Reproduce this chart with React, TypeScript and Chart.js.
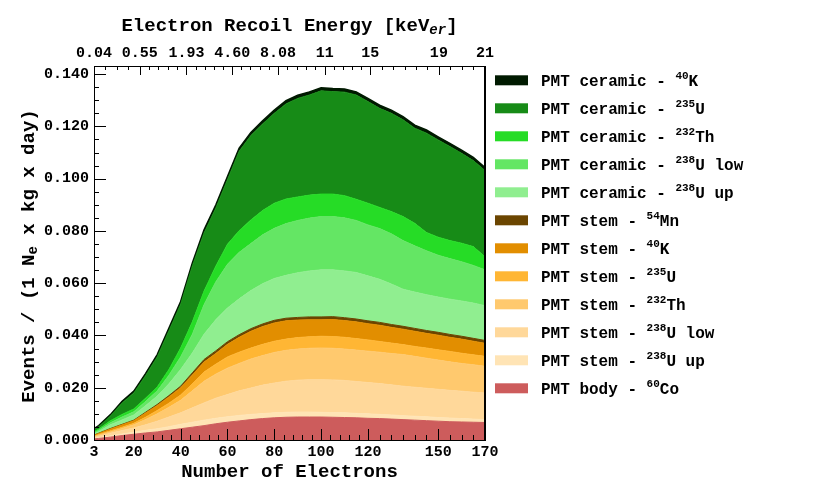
import React, { useEffect, useRef } from 'react';
import Chart from 'chart.js/auto';

const FONT = '"Liberation Mono", "Courier New", monospace';

// number of electrons at which the stacked spectrum was read
const electrons = [3, 5, 10, 15, 20, 25, 30, 35, 40, 45, 50, 55, 60, 65, 70, 75, 80, 85, 90, 95, 100, 105, 110, 115, 120, 125, 130, 135, 140, 145, 150, 155, 160, 165, 170];

// axis ticks
const electronTicks = [3, 20, 40, 60, 80, 100, 120, 150, 170];
const minorDivisions = [4, 5, 5, 5, 5, 5, 6, 4];
const energyTickElectrons = [3, 22.5, 42.5, 62, 81.6, 101.6, 121, 150.3, 170];
const energyTickLabels = ['0.04', '0.55', '1.93', '4.60', '8.08', '11', '15', '19', '21'];
const rateTicks = [0, 0.02, 0.04, 0.06, 0.08, 0.1, 0.12, 0.14];

// events / (1 Ne x kg x day), one array per component, bottom of the stack first
const bodyCo60 = [0.0004, 0.0006, 0.0011, 0.0017, 0.0022, 0.0027, 0.0031, 0.0037, 0.0043, 0.0049, 0.0055, 0.0062, 0.0068, 0.0073, 0.0078, 0.0082, 0.0085, 0.0087, 0.0088, 0.0088, 0.0088, 0.0087, 0.0086, 0.0085, 0.0083, 0.0082, 0.0080, 0.0078, 0.0076, 0.0074, 0.0072, 0.0070, 0.0069, 0.0068, 0.0067];
const stemU238up = [0.0002, 0.0003, 0.0005, 0.0006, 0.0008, 0.0010, 0.0012, 0.0014, 0.0017, 0.0019, 0.0021, 0.0021, 0.0021, 0.0021, 0.0020, 0.0019, 0.0019, 0.0019, 0.0019, 0.0019, 0.0018, 0.0018, 0.0018, 0.0017, 0.0017, 0.0016, 0.0016, 0.0015, 0.0015, 0.0015, 0.0014, 0.0014, 0.0013, 0.0012, 0.0011];
const stemU238low = [0.0004, 0.0005, 0.0010, 0.0013, 0.0016, 0.0021, 0.0029, 0.0037, 0.0044, 0.0055, 0.0066, 0.0077, 0.0085, 0.0094, 0.0101, 0.0109, 0.0114, 0.0119, 0.0122, 0.0124, 0.0125, 0.0125, 0.0124, 0.0122, 0.0120, 0.0118, 0.0115, 0.0113, 0.0111, 0.0109, 0.0108, 0.0106, 0.0105, 0.0103, 0.0102];
const stemTh232 = [0.0003, 0.0004, 0.0005, 0.0008, 0.0012, 0.0020, 0.0028, 0.0037, 0.0048, 0.0065, 0.0083, 0.0092, 0.0101, 0.0105, 0.0111, 0.0113, 0.0117, 0.0118, 0.0119, 0.0120, 0.0121, 0.0121, 0.0120, 0.0120, 0.0120, 0.0120, 0.0120, 0.0121, 0.0118, 0.0115, 0.0112, 0.0109, 0.0106, 0.0105, 0.0102];
const stemU235 = [0.0002, 0.0003, 0.0004, 0.0005, 0.0006, 0.0009, 0.0013, 0.0016, 0.0020, 0.0027, 0.0035, 0.0038, 0.0043, 0.0043, 0.0042, 0.0043, 0.0043, 0.0043, 0.0044, 0.0044, 0.0045, 0.0045, 0.0045, 0.0044, 0.0043, 0.0041, 0.0040, 0.0038, 0.0038, 0.0039, 0.0039, 0.0040, 0.0039, 0.0038, 0.0038];
const stemK40 = [0.0003, 0.0004, 0.0007, 0.0009, 0.0010, 0.0016, 0.0019, 0.0024, 0.0028, 0.0034, 0.0038, 0.0041, 0.0048, 0.0057, 0.0064, 0.0068, 0.0070, 0.0070, 0.0067, 0.0065, 0.0063, 0.0065, 0.0064, 0.0064, 0.0062, 0.0062, 0.0060, 0.0059, 0.0058, 0.0056, 0.0056, 0.0054, 0.0054, 0.0052, 0.0050];
const stemMn54 = [0.0001, 0.0001, 0.0002, 0.0002, 0.0002, 0.0003, 0.0004, 0.0005, 0.0006, 0.0008, 0.0010, 0.0010, 0.0010, 0.0010, 0.0010, 0.0010, 0.0010, 0.0010, 0.0010, 0.0011, 0.0011, 0.0011, 0.0011, 0.0011, 0.0011, 0.0011, 0.0011, 0.0011, 0.0011, 0.0011, 0.0011, 0.0011, 0.0011, 0.0011, 0.0011];
const ceramicU238up = [0.0005, 0.0006, 0.0014, 0.0017, 0.0020, 0.0025, 0.0032, 0.0045, 0.0064, 0.0076, 0.0097, 0.0119, 0.0129, 0.0137, 0.0146, 0.0154, 0.0160, 0.0164, 0.0171, 0.0176, 0.0180, 0.0179, 0.0179, 0.0178, 0.0172, 0.0165, 0.0155, 0.0142, 0.0139, 0.0137, 0.0135, 0.0135, 0.0135, 0.0135, 0.0133];
const ceramicU238low = [0.0004, 0.0005, 0.0008, 0.0011, 0.0012, 0.0016, 0.0020, 0.0033, 0.0048, 0.0072, 0.0113, 0.0145, 0.0167, 0.0178, 0.0180, 0.0187, 0.0192, 0.0198, 0.0200, 0.0202, 0.0204, 0.0204, 0.0203, 0.0199, 0.0195, 0.0194, 0.0192, 0.0186, 0.0177, 0.0168, 0.0160, 0.0155, 0.0150, 0.0144, 0.0137];
const ceramicTh232 = [0.0004, 0.0005, 0.0008, 0.0010, 0.0011, 0.0013, 0.0015, 0.0022, 0.0034, 0.0047, 0.0052, 0.0060, 0.0077, 0.0083, 0.0090, 0.0093, 0.0096, 0.0094, 0.0090, 0.0088, 0.0086, 0.0086, 0.0085, 0.0081, 0.0083, 0.0081, 0.0085, 0.0092, 0.0086, 0.0070, 0.0069, 0.0069, 0.0071, 0.0072, 0.0050];
const ceramicU235 = [0.0008, 0.0009, 0.0018, 0.0044, 0.0061, 0.0086, 0.0115, 0.0148, 0.0167, 0.0214, 0.0222, 0.0222, 0.0247, 0.0304, 0.0323, 0.0331, 0.0344, 0.0364, 0.0377, 0.0383, 0.0395, 0.0392, 0.0396, 0.0399, 0.0389, 0.0379, 0.0376, 0.0370, 0.0364, 0.0380, 0.0372, 0.0360, 0.0344, 0.0329, 0.0330];
const ceramicK40 = [0.0003, 0.0004, 0.0005, 0.0006, 0.0007, 0.0008, 0.0009, 0.0010, 0.0011, 0.0011, 0.0012, 0.0012, 0.0012, 0.0012, 0.0012, 0.0012, 0.0012, 0.0012, 0.0012, 0.0012, 0.0012, 0.0012, 0.0012, 0.0012, 0.0012, 0.0012, 0.0012, 0.0012, 0.0012, 0.0012, 0.0012, 0.0012, 0.0012, 0.0012, 0.0012];

interface Component {
  source: string;
  mass: string;
  element: string;
  suffix: string;
  color: string;
  values: number[];
}

const components: Component[] = [
  { source: 'PMT body', mass: '60', element: 'Co', suffix: '', color: '#cd5c5c', values: bodyCo60 },
  { source: 'PMT stem', mass: '238', element: 'U', suffix: ' up', color: '#ffe4b5', values: stemU238up },
  { source: 'PMT stem', mass: '238', element: 'U', suffix: ' low', color: '#ffd89a', values: stemU238low },
  { source: 'PMT stem', mass: '232', element: 'Th', suffix: '', color: '#ffc96e', values: stemTh232 },
  { source: 'PMT stem', mass: '235', element: 'U', suffix: '', color: '#ffb634', values: stemU235 },
  { source: 'PMT stem', mass: '40', element: 'K', suffix: '', color: '#e28e00', values: stemK40 },
  { source: 'PMT stem', mass: '54', element: 'Mn', suffix: '', color: '#6b4500', values: stemMn54 },
  { source: 'PMT ceramic', mass: '238', element: 'U', suffix: ' up', color: '#90ee90', values: ceramicU238up },
  { source: 'PMT ceramic', mass: '238', element: 'U', suffix: ' low', color: '#64e664', values: ceramicU238low },
  { source: 'PMT ceramic', mass: '232', element: 'Th', suffix: '', color: '#26dc26', values: ceramicTh232 },
  { source: 'PMT ceramic', mass: '235', element: 'U', suffix: '', color: '#178b17', values: ceramicU235 },
  { source: 'PMT ceramic', mass: '40', element: 'K', suffix: '', color: '#001a00', values: ceramicK40 },
];

type Run = { text: string; size: number; rise?: number; italic?: boolean };

const runFont = (r: Run) => `${r.italic ? 'italic ' : ''}bold ${r.size}px ${FONT}`;

function runsWidth(ctx: CanvasRenderingContext2D, runs: Run[]) {
  return runs.reduce((w, r) => {
    ctx.font = runFont(r);
    return w + ctx.measureText(r.text).width;
  }, 0);
}

function drawRuns(ctx: CanvasRenderingContext2D, runs: Run[], x: number, baseline: number) {
  let cx = x;
  ctx.textAlign = 'left';
  ctx.textBaseline = 'alphabetic';
  ctx.fillStyle = '#000';
  runs.forEach(r => {
    ctx.font = runFont(r);
    ctx.fillText(r.text, cx, baseline - (r.rise || 0));
    cx += ctx.measureText(r.text).width;
  });
}

// ROOT-like frame: inward ticks, titles with sub/superscripts and the legend
const rootFrame = {
  id: 'rootFrame',
  afterDraw(chart: any) {
    const { ctx, chartArea: area } = chart;
    const xs = chart.scales.x;
    const xt = chart.scales.x2;
    const ys = chart.scales.y;
    const crisp = (v: number) => Math.round(v) + 0.5;
    const seg = (x1: number, y1: number, x2: number, y2: number) => {
      ctx.beginPath();
      ctx.moveTo(x1, y1);
      ctx.lineTo(x2, y2);
      ctx.stroke();
    };

    ctx.save();
    ctx.strokeStyle = '#000';
    ctx.lineWidth = 1;

    electronTicks.forEach((v, i) => {
      const px = crisp(xs.getPixelForValue(v));
      seg(px, area.bottom, px, area.bottom - 11);
      if (i < electronTicks.length - 1) {
        const n = minorDivisions[i];
        for (let k = 1; k < n; k++) {
          const mx = crisp(xs.getPixelForValue(v + ((electronTicks[i + 1] - v) * k) / n));
          seg(mx, area.bottom, mx, area.bottom - 5);
        }
      }
    });

    energyTickElectrons.forEach((v, i) => {
      const px = crisp(xt.getPixelForValue(v));
      seg(px, area.top, px, area.top + 9);
      if (i < energyTickElectrons.length - 1) {
        const n = minorDivisions[i];
        for (let k = 1; k < n; k++) {
          const mx = crisp(xt.getPixelForValue(v + ((energyTickElectrons[i + 1] - v) * k) / n));
          seg(mx, area.top, mx, area.top + 4);
        }
      }
    });

    for (let k = 0; k * 0.005 <= ys.max; k++) {
      const py = crisp(ys.getPixelForValue(k * 0.005));
      seg(area.left, py, area.left + (k % 4 === 0 ? 12 : 5), py);
    }

    ctx.strokeRect(crisp(area.left), crisp(area.top), Math.round(area.right - area.left), Math.round(area.bottom - area.top));
    ctx.lineWidth = 2;
    seg(Math.round(area.right), area.top, Math.round(area.right), area.bottom + 0.5);

    const cx = (area.left + area.right) / 2;

    const topTitle: Run[] = [
      { text: 'Electron Recoil Energy [keV', size: 19 },
      { text: 'er', size: 14, italic: true, rise: -3 },
      { text: ']', size: 19 },
    ];
    drawRuns(ctx, topTitle, cx - runsWidth(ctx, topTitle) / 2, 31);

    const bottomTitle: Run[] = [{ text: 'Number of Electrons', size: 19 }];
    drawRuns(ctx, bottomTitle, cx - runsWidth(ctx, bottomTitle) / 2, 477);

    const yTitle: Run[] = [
      { text: 'Events / (1 N', size: 19 },
      { text: 'e', size: 14, rise: -3 },
      { text: ' x kg x day)', size: 19 },
    ];
    ctx.save();
    ctx.translate(34, (area.top + area.bottom) / 2 + 3);
    ctx.rotate(-Math.PI / 2);
    drawRuns(ctx, yTitle, -runsWidth(ctx, yTitle) / 2, 0);
    ctx.restore();

    const legendItems = [...components].reverse();
    legendItems.forEach((c, i) => {
      const yc = area.top + 14.3 + i * 28;
      ctx.fillStyle = c.color;
      ctx.fillRect(area.right + 10, yc - 5, 33, 10);
      drawRuns(
        ctx,
        [
          { text: `${c.source} - `, size: 16 },
          { text: c.mass, size: 11, rise: 7 },
          { text: c.element + c.suffix, size: 16 },
        ],
        area.right + 56,
        yc + 5.5
      );
    });

    ctx.restore();
  },
};

const tickFont = { family: FONT, size: 15, weight: 'bold' as const };

const StackedSpectrum: React.FC = () => {
  const canvasRef = useRef<HTMLCanvasElement | null>(null);

  useEffect(() => {
    document.body.style.margin = '0';
    if (!canvasRef.current) return;

    const chart = new Chart(canvasRef.current, {
      type: 'line',
      data: {
        datasets: components.map((c, i) => ({
          label: `${c.source} - ${c.mass}${c.element}${c.suffix}`,
          data: electrons.map((x, j) => ({ x, y: c.values[j] })),
          backgroundColor: c.color,
          borderColor: c.color,
          borderWidth: i === components.length - 1 ? 1.5 : 1,
          pointRadius: 0,
          tension: 0,
          fill: i === 0 ? 'origin' : '-1',
        })),
      },
      options: {
        responsive: false,
        animation: false,
        layout: { padding: { left: 0, right: 345, top: 0, bottom: 0 } },
        plugins: {
          legend: { display: false },
          tooltip: { enabled: false },
        },
        scales: {
          x: {
            type: 'linear',
            position: 'bottom',
            min: 3,
            max: 170,
            grid: { display: false, drawTicks: false },
            border: { display: false },
            ticks: {
              autoSkip: false,
              maxRotation: 0,
              minRotation: 0,
              padding: 3,
              color: '#000',
              font: tickFont,
              callback: (v: any) => String(v),
            },
            afterBuildTicks: (s: any) => {
              s.ticks = electronTicks.map(value => ({ value }));
            },
            afterFit: (s: any) => {
              s.height = 58;
              s.paddingLeft = 0;
              s.paddingRight = 0;
            },
          },
          x2: {
            type: 'linear',
            position: 'top',
            min: 3,
            max: 170,
            grid: { display: false, drawTicks: false },
            border: { display: false },
            ticks: {
              autoSkip: false,
              maxRotation: 0,
              minRotation: 0,
              padding: 4,
              color: '#000',
              font: tickFont,
              callback: (_v: any, i: number) => energyTickLabels[i],
            },
            afterBuildTicks: (s: any) => {
              s.ticks = energyTickElectrons.map(value => ({ value }));
            },
            afterFit: (s: any) => {
              s.height = 66;
              s.paddingLeft = 0;
              s.paddingRight = 0;
            },
          },
          y: {
            type: 'linear',
            stacked: true,
            min: 0,
            max: 0.1431,
            grid: { display: false, drawTicks: false },
            border: { display: false },
            ticks: {
              padding: 5,
              color: '#000',
              font: tickFont,
              callback: (v: any) => Number(v).toFixed(3),
            },
            afterBuildTicks: (s: any) => {
              s.ticks = rateTicks.map(value => ({ value }));
            },
            afterFit: (s: any) => {
              s.width = 94;
            },
          },
        },
      },
      plugins: [rootFrame],
    });

    return () => {
      chart.destroy();
    };
  }, []);

  return (
    <div style={{ width: 830, height: 498, background: '#fff' }}>
      <canvas ref={canvasRef} width={830} height={498} style={{ display: 'block' }}></canvas>
    </div>
  );
};

export default function App() {
  return <StackedSpectrum />;
}
